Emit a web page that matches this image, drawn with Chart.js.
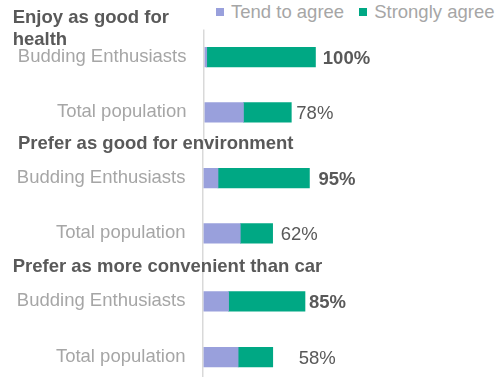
<!DOCTYPE html>
<html>
<head>
<meta charset="utf-8">
<script src="https://cdn.jsdelivr.net/npm/chart.js@4"></script>
<style>
  html, body { margin: 0; padding: 0; background: #fff; overflow: hidden; }
  #wrap { position: relative; width: 498px; height: 377px; overflow: hidden;
          font-family: "Liberation Sans", Arial, sans-serif; }
  .panel { position: absolute; left: 0; }
  .heading { position: absolute; font-weight: bold; font-size: 18.5px; line-height: 22.4px;
             color: #595959; }
  #legend { position: absolute; left: 216px; top: 0.9px; display: flex; white-space: nowrap;
            font-size: 18.5px; line-height: 22.4px; color: #a6a6a6; }
  .item { display: inline-flex; align-items: center; margin-right: 15px; }
  .swatch { width: 8px; height: 8px; margin-right: 7px; }
</style>
</head>
<body>
<div id="wrap">
  <div id="legend"></div>
</div>
<script>
// Survey answers, percent of respondents
const categories = ['Budding Enthusiasts', 'Total population'];
const headings = [
  'Enjoy as good for health',
  'Prefer as good for environment',
  'Prefer as more convenient than car'
];
const seriesNames = ['Tend to agree', 'Strongly agree'];

const healthTend = [2, 35];
const healthStrong = [98, 43];
const envTend = [13, 33];
const envStrong = [82, 29];
const convTend = [21, 29];
const convStrong = [64, 29];

const TEND_COLOR = '#99a0dc';
const STRONG_COLOR = '#00a884';
const FONT = '"Liberation Sans", Arial, sans-serif';
const W = 498;

// Block layout: canvas placement, zero line, scale density, label gaps
const panels = [
  { tend: healthTend, strong: healthStrong, top: 0, height: 140, padTop: 29.5, zero: 204.5, ppp: 1.113,
    gaps: [7, 5], lineFromArea: true, head: { left: 12.7, top: 5.9, width: 185 } },
  { tend: envTend, strong: envStrong, top: 140, height: 121, padTop: 10.5, zero: 203.5, ppp: 1.115,
    gaps: [9, 8], lineFromArea: false, head: { left: 18, top: 131.5, width: 400 } },
  { tend: convTend, strong: convStrong, top: 261, height: 124, padTop: 12.5, zero: 203.5, ppp: 1.194,
    gaps: [4, 26], lineFromArea: false, head: { left: 12.7, top: 255.2, width: 400 } }
];

// Vertical zero line running through all blocks
const zeroLine = {
  id: 'zeroLine',
  beforeDatasetsDraw(chart, args, opts) {
    const ctx = chart.ctx;
    const x = chart.scales.x.getPixelForValue(0) - 0.75;
    const y0 = opts.fromArea ? chart.chartArea.top : 0;
    ctx.save();
    ctx.strokeStyle = '#d9d9d9';
    ctx.lineWidth = 1.5;
    ctx.beginPath();
    ctx.moveTo(x, y0);
    ctx.lineTo(x, chart.height);
    ctx.stroke();
    ctx.restore();
  }
};

// Total of both segments printed after each bar
const totals = {
  id: 'totals',
  afterDatasetsDraw(chart, args, opts) {
    const ctx = chart.ctx;
    const last = chart.data.datasets.length - 1;
    const meta = chart.getDatasetMeta(last);
    ctx.save();
    ctx.fillStyle = '#595959';
    ctx.textBaseline = 'middle';
    ctx.textAlign = 'left';
    meta.data.forEach((bar, i) => {
      const sum = chart.data.datasets.reduce((s, d) => s + d.data[i], 0);
      ctx.font = (i === 0 ? 'bold ' : '') + '18.5px ' + FONT;
      ctx.fillText(sum + '%', bar.x + opts.gaps[i], bar.y + 2);
    });
    ctx.restore();
  }
};

const wrap = document.getElementById('wrap');
const charts = [];

panels.forEach((p, k) => {
  const holder = document.createElement('div');
  holder.className = 'panel';
  holder.style.top = p.top + 'px';
  const canvas = document.createElement('canvas');
  canvas.width = W;
  canvas.height = p.height;
  canvas.style.width = W + 'px';
  canvas.style.height = p.height + 'px';
  holder.appendChild(canvas);
  wrap.appendChild(holder);

  const chart = new Chart(canvas, {
    type: 'bar',
    data: {
      labels: categories,
      datasets: [
        { label: seriesNames[0], data: p.tend, backgroundColor: TEND_COLOR, borderWidth: 0, barThickness: 19.5 },
        { label: seriesNames[1], data: p.strong, backgroundColor: STRONG_COLOR, borderWidth: 0, barThickness: 19.5 }
      ]
    },
    options: {
      indexAxis: 'y',
      responsive: false,
      animation: false,
      layout: { padding: { top: p.padTop, bottom: 0, left: 0, right: W - p.zero - p.ppp * 100 } },
      scales: {
        x: { stacked: true, min: 0, max: 100, display: false },
        y: {
          stacked: true,
          grid: { display: false, drawTicks: false },
          border: { display: false },
          ticks: { color: '#a6a6a6', padding: 18, font: { size: 18.5, family: FONT } },
          afterFit(scale) {
            scale.width = p.zero;
            scale.paddingTop = 0;
            scale.paddingBottom = 0;
          }
        }
      },
      plugins: {
        legend: { display: false },
        tooltip: { enabled: false },
        zeroLine: { fromArea: p.lineFromArea },
        totals: { gaps: p.gaps }
      }
    },
    plugins: [zeroLine, totals]
  });
  charts.push(chart);

  const h = document.createElement('div');
  h.className = 'heading';
  h.style.left = p.head.left + 'px';
  h.style.top = p.head.top + 'px';
  h.style.width = p.head.width + 'px';
  h.textContent = headings[k];
  wrap.appendChild(h);
});

// Legend built from the first block's datasets
const legend = document.getElementById('legend');
charts[0].data.datasets.forEach(ds => {
  const item = document.createElement('span');
  item.className = 'item';
  const sw = document.createElement('span');
  sw.className = 'swatch';
  sw.style.background = ds.backgroundColor;
  const txt = document.createElement('span');
  txt.textContent = ds.label;
  item.appendChild(sw);
  item.appendChild(txt);
  legend.appendChild(item);
});
</script>
</body>
</html>
